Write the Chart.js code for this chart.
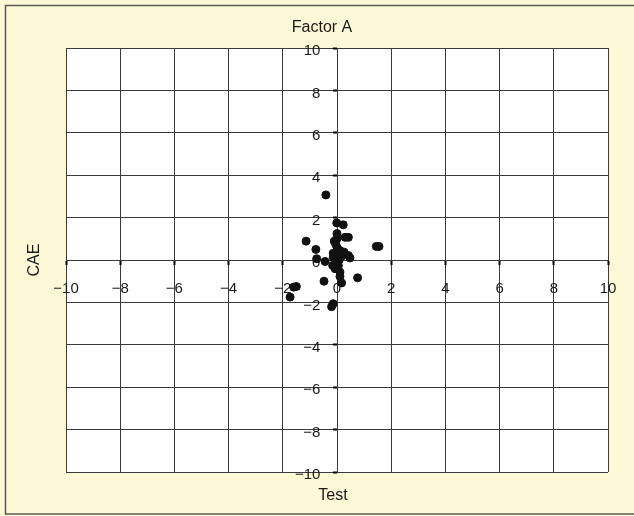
<!DOCTYPE html>
<html>
<head>
<meta charset="utf-8">
<script src="https://cdn.jsdelivr.net/npm/chart.js@4.4.1/dist/chart.umd.min.js"></script>
<style>
  html, body { margin: 0; padding: 0; background: #fdf8d6; }
  canvas { display: block; }
</style>
</head>
<body>
<canvas id="scatterChart" width="634" height="516"></canvas>
<script>
// values
const testValues = [-0.41, -0.01, 0.23, 0.0, 0.30, 0.42, -0.1, -1.14, -0.78, 1.45,
  1.55, -0.14, 0.0, 0.05, 0.11, 0.26, 0.42, 0.48, -0.75, -0.44,
  -0.14, 0.02, 0.08, -0.16, -0.07, 0.05, 0.11, 0.11, 0.76, -0.48,
  0.17, -1.5, -1.6, -1.73, -0.14, -0.2, 0.0, -0.05, 0.15, -0.05];
const caeValues = [3.07, 1.75, 1.66, 1.25, 1.07, 1.07, 0.89, 0.89, 0.5, 0.64,
  0.64, 0.32, 0.6, 0.3, 0.45, 0.37, 0.21, 0.1, 0.06, -0.07,
  0.13, 0.06, 0.0, -0.26, -0.41, -0.26, -0.57, -0.78, -0.84, -1.0,
  -1.08, -1.25, -1.28, -1.75, -2.06, -2.2, 1.0, 0.75, 0.15, -0.1];
const axisMin = -10;
const axisMax = 10;
const axisStep = 2;

const points = testValues.map((v, i) => ({ x: v, y: caeValues[i] }));

const FONT = "'Liberation Sans', Arial, sans-serif";
const ink = '#1a1a1a';
const gridColor = '#3a3a3a';

function fmt(v) {
  return v < 0 ? '\u2212' + Math.abs(v) : String(v);
}

const framePlugin = {
  id: 'frame',
  beforeDraw(chart) {
    const c = chart.ctx;
    const a = chart.chartArea;
    c.save();
    c.fillStyle = '#fdf8d6';
    c.fillRect(0, 0, chart.width, chart.height);
    c.strokeStyle = '#5a5a55';
    c.lineWidth = 1.5;
    c.strokeRect(5.5, 5.5, chart.width + 10, 508.5);
    c.fillStyle = '#ffffff';
    c.fillRect(a.left, a.top, a.right - a.left, a.bottom - a.top);
    c.restore();
  },
  afterDraw(chart) {
    const c = chart.ctx;
    c.save();
    c.fillStyle = ink;
    c.font = '16px ' + FONT;
    c.textAlign = 'center';
    c.textBaseline = 'middle';
    c.fillText('Factor A', 322, 28);
    c.fillText('Test', 333, 496);
    c.translate(35, 260);
    c.rotate(-Math.PI / 2);
    c.fillText('CAE', 0, 0);
    c.restore();
  }
};

new Chart(document.getElementById('scatterChart'), {
  type: 'scatter',
  data: {
    datasets: [{
      label: 'CAE vs Test',
      data: points,
      backgroundColor: '#111111',
      borderColor: '#111111',
      pointRadius: 4,
      pointHoverRadius: 4
    }]
  },
  options: {
    responsive: false,
    animation: false,
    layout: { padding: { left: 66, top: 48, right: 26, bottom: 44 } },
    plugins: {
      legend: { display: false },
      tooltip: { enabled: false }
    },
    scales: {
      x: {
        type: 'linear',
        position: { y: 0 },
        min: axisMin,
        max: axisMax,
        ticks: {
          stepSize: axisStep,
          color: ink,
          font: { family: FONT, size: 15 },
          padding: 16,
          maxRotation: 0,
          callback: (v) => fmt(v)
        },
        grid: { color: gridColor, lineWidth: 1, tickLength: 4, tickColor: '#000', tickWidth: 2 },
        border: { color: gridColor }
      },
      y: {
        type: 'linear',
        position: { x: 0 },
        min: axisMin,
        max: axisMax,
        ticks: {
          stepSize: axisStep,
          color: ink,
          font: { family: FONT, size: 15 },
          labelOffset: 3,
          // labels sit left of the centred axis
          callback: (v) => fmt(v) + '    '
        },
        grid: { color: gridColor, lineWidth: 1, tickLength: 4, tickColor: '#000', tickWidth: 2 },
        border: { color: gridColor }
      }
    }
  },
  plugins: [framePlugin]
});
</script>
</body>
</html>
